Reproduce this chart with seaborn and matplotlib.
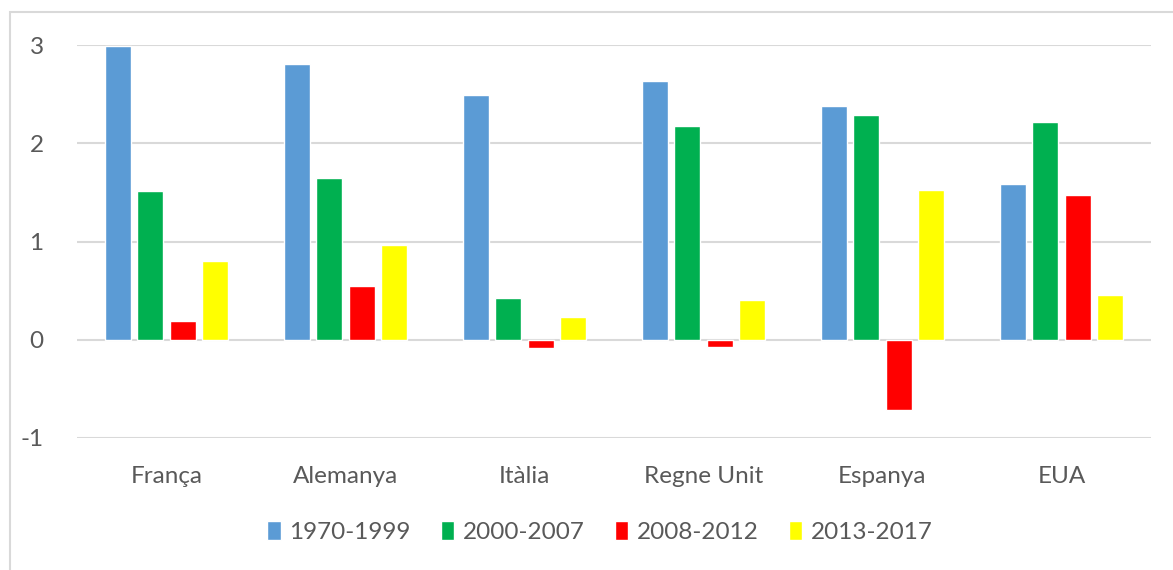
import pandas as pd
import matplotlib.pyplot as plt
import seaborn as sns
from matplotlib.patches import Rectangle


COUNTRIES = ["França", "Alemanya", "Itàlia", "Regne Unit", "Espanya", "EUA"]
PERIODS = ["1970-1999", "2000-2007", "2008-2012", "2013-2017"]

P_1970_1999 = [2.99, 2.81, 2.49, 2.63, 2.38, 1.59]
P_2000_2007 = [1.51, 1.65, 0.43, 2.18, 2.29, 2.22]
P_2008_2012 = [0.19, 0.55, -0.08, -0.07, -0.72, 1.47]
P_2013_2017 = [0.80, 0.96, 0.23, 0.40, 1.52, 0.46]

COLORS = ["#5B9BD5", "#00B050", "#FF0000", "#FFFF00"]
TEXT = "#595959"
GRID = "#D9D9D9"


def build_frame() -> pd.DataFrame:
    rows = []
    for period, values in zip(PERIODS, [P_1970_1999, P_2000_2007, P_2008_2012, P_2013_2017]):
        for country, v in zip(COUNTRIES, values):
            rows.append({"Country": country, "Period": period, "Value": v})
    return pd.DataFrame(rows)


def main():
    sns.set_theme(style="white")
    plt.rcParams["font.family"] = ["Lato", "DejaVu Sans"]
    plt.rcParams["axes.unicode_minus"] = False

    df = build_frame()

    fig = plt.figure(figsize=(11.73, 5.70), dpi=100)
    ax = fig.add_axes([77 / 1173, 1 - 438 / 570, (1151 - 77) / 1173, (438 - 45) / 570])

    sns.barplot(
        data=df, x="Country", y="Value", hue="Period",
        order=COUNTRIES, hue_order=PERIODS, palette=COLORS,
        width=0.726, gap=0.2, saturation=1, ax=ax, legend=True,
    )

    ax.set_ylim(-1, 3)
    ax.set_yticks([-1, 0, 1, 2, 3])
    ax.set_xlim(-0.5, len(COUNTRIES) - 0.5)
    for y in [-1, 0, 1, 2, 3]:
        ax.axhline(y, color=GRID, lw=1.5, zorder=0)
    for s in ax.spines.values():
        s.set_visible(False)
    ax.set_xlabel("")
    ax.set_ylabel("")
    ax.tick_params(axis="both", length=0, labelsize=17.5, labelcolor=TEXT)
    ax.tick_params(axis="y", pad=24)
    ax.tick_params(axis="x", pad=20)

    handles, labels = ax.get_legend_handles_labels()
    ax.get_legend().remove()
    fig.legend(
        handles, labels, loc="center", bbox_to_anchor=(600 / 1173, 1 - 532 / 570),
        ncol=4, frameon=False, fontsize=17.5, handlelength=0.55, handleheight=0.8,
        handletextpad=0.35, columnspacing=1.25, labelcolor=TEXT,
    )

    # outer chart border
    fig.patches.append(Rectangle((10 / 1173, -0.1), 1.2, 1 - 12 / 570 + 0.1,
                                 transform=fig.transFigure, fill=False,
                                 edgecolor=GRID, lw=1.5))

    fig.savefig("out.png", dpi=100, facecolor="white")


if __name__ == "__main__":
    main()
